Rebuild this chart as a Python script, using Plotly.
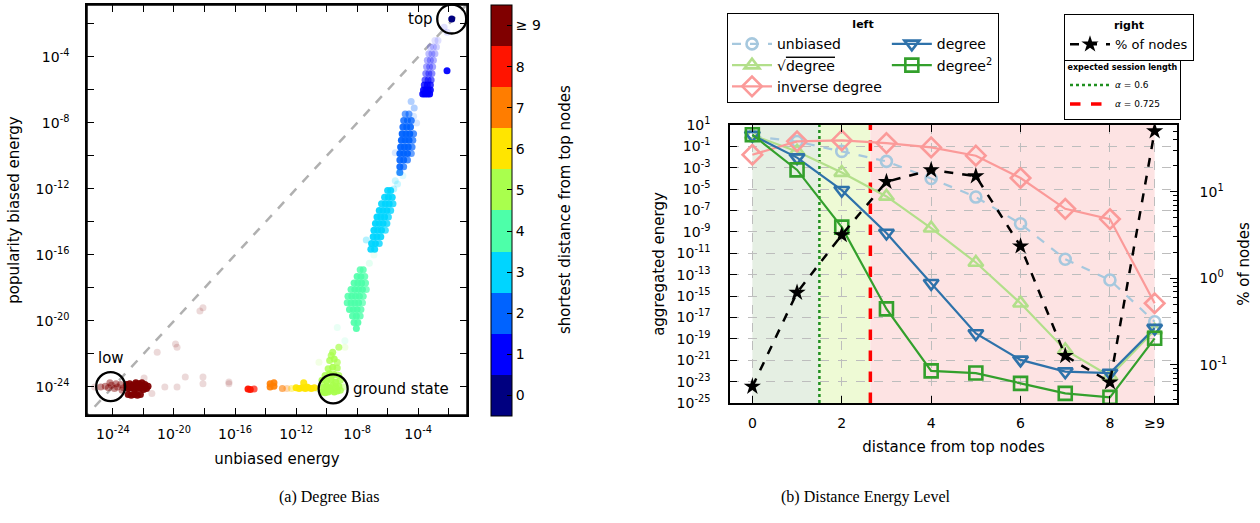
import numpy as np
import plotly.graph_objects as go

# ================= (a) Degree Bias : log10(unbiased energy), log10(biased energy), alpha =================
c0_x = [-1.8]
c0_y = [-1.7]
c0_a = [1.0]

c1_x = [-3.7, -3.55, -3.4, -3.25, -3.65, -3.5, -3.35, -3.2, -3.6, -3.4, -3.2, -3.55, -3.35, -3.15,
        -3.5, -3.3, -3.1, -3.45, -3.25, -3.05, -3.4, -3.2, -3.0, -3.3, -3.1, -2.9,
        -3.2, -3.0, -2.8, -2.9, -2.7, -2.11, -2.3, -2.1]
c1_y = [-6.25, -6.25, -6.25, -6.25, -6.0, -6.0, -6.0, -6.0, -5.7, -5.7, -5.7, -5.4, -5.4, -5.4,
        -5.0, -5.0, -5.0, -4.6, -4.6, -4.6, -4.2, -4.2, -4.2, -3.8, -3.8, -3.8,
        -3.4, -3.4, -3.4, -3.0, -3.0, -4.83, -2.2, -2.5]
c1_a = [0.95, 0.95, 0.95, 0.95, 0.9, 0.9, 0.9, 0.9, 0.8, 0.8, 0.8, 0.6, 0.6, 0.6,
        0.45, 0.45, 0.45, 0.35, 0.35, 0.35, 0.3, 0.3, 0.3, 0.25, 0.25, 0.25,
        0.18, 0.18, 0.18, 0.12, 0.12, 0.95, 0.12, 0.12]

c2_x = [-4.85, -4.6, -4.95, -4.7, -4.45, -5.0, -4.75, -4.5, -5.05, -4.8, -4.55, -4.3,
        -5.1, -4.85, -4.6, -4.35, -5.15, -4.9, -4.65, -4.4, -5.2, -4.95, -4.7, -4.45,
        -5.2, -4.95, -4.7, -5.2, -4.95, -5.2, -4.3, -4.1, -5.5, -4.46, -4.26]
c2_y = [-7.45, -7.45, -7.85, -7.85, -7.85, -8.25, -8.25, -8.25, -8.65, -8.65, -8.65, -8.65,
        -9.05, -9.05, -9.05, -9.05, -9.45, -9.45, -9.45, -9.45, -9.85, -9.85, -9.85, -9.85,
        -10.25, -10.25, -10.25, -10.65, -10.65, -11.0, -7.6, -8.0, -9.8, -6.7, -7.1]
c2_a = [0.6, 0.6, 0.8, 0.8, 0.8, 0.9, 0.9, 0.9, 0.95, 0.95, 0.95, 0.7,
        0.95, 0.95, 0.95, 0.7, 0.95, 0.95, 0.95, 0.7, 0.95, 0.95, 0.95, 0.6,
        0.9, 0.9, 0.7, 0.9, 0.7, 0.8, 0.15, 0.15, 0.15, 0.3, 0.3]

c3_x = [-6.0, -5.8, -6.2, -5.95, -5.7, -6.4, -6.15, -5.9, -5.65, -6.55, -6.3, -6.05, -5.8,
        -6.7, -6.45, -6.2, -5.95, -6.8, -6.55, -6.3, -6.05, -6.9, -6.65, -6.4, -6.15,
        -6.95, -6.7, -6.45, -7.05, -6.8, -6.55, -7.1, -6.85,
        -5.25, -5.5, -5.0, -7.4, -5.6, -5.35]
c3_y = [-12.1, -12.1, -12.5, -12.5, -12.5, -12.9, -12.9, -12.9, -12.9, -13.3, -13.3, -13.3, -13.3,
        -13.7, -13.7, -13.7, -13.7, -14.1, -14.1, -14.1, -14.1, -14.5, -14.5, -14.5, -14.5,
        -14.9, -14.9, -14.9, -15.3, -15.3, -15.3, -15.65, -15.65,
        -11.0, -11.5, -11.2, -15.1, -12.0, -11.7]
c3_a = [0.9, 0.9, 0.9, 0.95, 0.9, 0.9, 0.95, 0.95, 0.8, 0.95, 0.95, 0.95, 0.8,
        0.95, 0.95, 0.95, 0.8, 0.95, 0.95, 0.95, 0.8, 0.95, 0.95, 0.95, 0.7,
        0.95, 0.95, 0.9, 0.95, 0.95, 0.8, 0.9, 0.9,
        0.15, 0.2, 0.12, 0.3, 0.25, 0.2]

c4_x = [-7.8, -7.6, -8.0, -7.75, -7.5, -8.2, -7.95, -7.7, -7.45, -8.4, -8.15, -7.9, -7.65, -7.4,
        -8.6, -8.35, -8.1, -7.85, -7.6, -8.65, -8.4, -8.15, -7.9, -7.65, -8.5, -8.25, -8.0, -7.75,
        -8.3, -8.05, -7.8, -8.2, -7.95, -8.05, -9.3, -7.2, -6.9, -8.8]
c4_y = [-16.9, -16.9, -17.3, -17.3, -17.3, -17.7, -17.7, -17.7, -17.7, -18.1, -18.1, -18.1, -18.1, -18.1,
        -18.5, -18.5, -18.5, -18.5, -18.5, -18.9, -18.9, -18.9, -18.9, -18.9, -19.3, -19.3, -19.3, -19.3,
        -19.7, -19.7, -19.7, -20.1, -20.1, -20.45, -20.4, -16.5, -16.0, -21.2]
c4_a = [0.8, 0.8, 0.9, 0.95, 0.8, 0.9, 0.95, 0.95, 0.8, 0.85, 0.95, 0.95, 0.95, 0.7,
        0.85, 0.95, 0.95, 0.95, 0.8, 0.85, 0.95, 0.95, 0.95, 0.7, 0.9, 0.95, 0.95, 0.8,
        0.9, 0.95, 0.8, 0.9, 0.9, 0.9, 0.12, 0.15, 0.1, 0.12]

c5_x = [-10.3, -10.1, -9.9, -9.7, -9.5, -9.3, -9.1, -10.2, -10.0, -9.8, -9.6, -9.4, -9.2,
        -10.3, -10.0, -9.7, -9.4, -9.1, -10.1, -9.8, -9.5, -9.2, -9.9, -9.6, -9.3,
        -9.8, -9.5, -9.3, -9.6, -9.2, -9.7, -8.9, -10.6, -8.8, -10.5]
c5_y = [-24.3, -24.35, -24.3, -24.2, -24.3, -24.25, -24.2, -24.0, -23.95, -24.05, -23.9, -24.0, -23.95,
        -23.6, -23.65, -23.55, -23.7, -23.6, -23.3, -23.2, -23.25, -23.3, -22.9, -22.8, -22.85,
        -22.4, -22.3, -22.5, -21.9, -21.6, -22.1, -24.0, -24.1, -21.6, -22.5]
c5_a = [0.95, 0.95, 0.95, 0.95, 0.95, 0.95, 0.8, 0.95, 0.95, 0.95, 0.95, 0.95, 0.9,
        0.9, 0.95, 0.95, 0.95, 0.8, 0.85, 0.95, 0.95, 0.8, 0.8, 0.9, 0.8,
        0.8, 0.85, 0.7, 0.8, 0.7, 0.75, 0.4, 0.3, 0.15, 0.15]

c6_x = [-12.0, -11.8, -11.6, -11.4, -11.2, -11.0, -10.8, -11.5, -11.3, -12.3]
c6_y = [-24.05, -24.1, -24.05, -24.1, -24.05, -24.1, -24.05, -23.75, -24.0, -24.1]
c6_a = [0.95, 0.95, 0.95, 0.95, 0.95, 0.95, 0.9, 0.9, 0.95, 0.4]

c7_x = [-13.7, -13.7, -13.45, -13.45, -12.9, -12.6]
c7_y = [-23.8, -24.0, -23.75, -23.95, -24.1, -24.1]
c7_a = [0.9, 0.9, 0.9, 0.9, 0.6, 0.3]

c8_x = [-15.15, -15.0, -14.75]
c8_y = [-24.12, -24.15, -24.12]
c8_a = [0.95, 0.95, 0.7]

c9_x = [-23.1, -22.9, -22.7, -22.5, -22.3, -22.1, -21.9, -21.7, -23.0, -22.8, -22.6, -22.4, -22.2,
        -22.0, -21.8, -23.1, -22.7, -22.3, -21.9, -22.5, -22.1, -23.0, -22.8, -22.6, -22.4, -22.2,
        -24.8, -24.5, -24.3, -24.1, -23.9, -23.7, -23.5, -23.3, -24.2, -23.8, -23.4,
        -21.45, -21.96, -20.6, -19.8, -19.26, -18.1, -18.1, -16.4, -21.1, -19.9, -19.8, -18.1,
        -18.3, -16.4, -25.2]
c9_y = [-23.85, -23.8, -23.9, -23.85, -23.8, -23.9, -23.85, -23.95, -24.1, -24.05, -24.15, -24.1, -24.05,
        -24.15, -24.1, -24.0, -24.0, -24.0, -24.0, -23.75, -23.75, -24.45, -24.5, -24.45, -24.5, -24.45,
        -24.0, -23.95, -24.05, -23.9, -24.1, -24.0, -23.85, -24.05, -23.75, -23.8, -24.2,
        -24.4, -23.45, -24.0, -24.0, -23.4, -23.4, -23.8, -23.8, -21.9, -21.4, -21.6, -19.2,
        -19.4, -23.7, -24.0]
c9_a = [0.95] * 26 + [0.45] * 11 + [0.15] * 15

clusters = [(c0_x, c0_y, c0_a), (c1_x, c1_y, c1_a), (c2_x, c2_y, c2_a), (c3_x, c3_y, c3_a),
            (c4_x, c4_y, c4_a), (c5_x, c5_y, c5_a), (c6_x, c6_y, c6_a), (c7_x, c7_y, c7_a),
            (c8_x, c8_y, c8_a), (c9_x, c9_y, c9_a)]

dist_labels = ["0", "1", "2", "3", "4", "5", "6", "7", "8", "≥ 9"]
jet10 = ["#000080", "#0000ff", "#0063ff", "#00d5ff", "#4dffa9",
         "#a9ff4d", "#ffe500", "#ff7d00", "#ff1400", "#800000"]

diag = [-26.0, -0.3]
# highlighted regions (log10 x, log10 y) and their labels
circ_x = [-1.8, -24.15, -9.57]
circ_y = [-1.7, -23.98, -24.12]
circ_txt = ["top", "low", "ground state"]

# ================= (b) Distance Energy Level =================
dist = [0, 1, 2, 3, 4, 5, 6, 7, 8, 9]
dist_ticktext = ["0", "2", "4", "6", "8", "≥9"]
unbiased = [-0.05, -0.55, -1.47, -2.4, -4.0, -5.74, -8.24, -11.55, -13.5, -17.4]
sqrt_degree = [0.05, -1.47, -3.45, -5.68, -8.65, -11.86, -15.67, -20.04, -22.5, -18.2]
inverse_degree = [-1.78, -0.53, -0.44, -0.69, -1.1, -1.87, -3.96, -6.84, -7.8, -15.67]
degree = [0.05, -2.05, -5.1, -9.1, -13.8, -18.5, -20.97, -22.07, -22.2, -18.0]
degree_sq = [0.09, -3.2, -8.55, -16.2, -22.0, -22.2, -23.16, -24.1, -24.47, -18.95]
pct_nodes = [-1.25, -0.165, 0.5, 1.115, 1.25, 1.18, 0.37, -0.895, -1.2, 1.7]   # log10(% of nodes)
session_len = [1.5, 2.64]
session_lbl = ["<i>α</i> = 0.6", "<i>α</i> = 0.725"]

FONT = "DejaVu Sans"
W, H = 1260, 523

fig = go.Figure()

# ---- scatter (a) ----
all_x, all_y, all_c, all_a = [], [], [], []
for k, (xs, ys, al) in enumerate(clusters):
    all_x += xs
    all_y += ys
    all_a += al
    all_c += [k] * len(xs)

cs = []
for k, col in enumerate(jet10):
    cs.append([k / 10, col])
    cs.append([(k + 1) / 10, col])

fig.add_trace(go.Scatter(
    x=[10 ** v for v in diag], y=[10 ** v for v in diag], mode="lines",
    line=dict(color="#b0b0b0", width=2.5, dash="dash"), showlegend=False,
    xaxis="x", yaxis="y", hoverinfo="skip"))

fig.add_trace(go.Scatter(
    x=10 ** np.array(all_x), y=10 ** np.array(all_y), mode="markers",
    marker=dict(size=7, color=all_c, opacity=all_a, colorscale=cs, cmin=-0.5, cmax=9.5,
                line=dict(width=0), showscale=True,
                colorbar=dict(x=491 / W, xanchor="left", y=1 - 5 / H, yanchor="top",
                              len=411 / H, lenmode="fraction", thickness=21, thicknessmode="pixels",
                              xpad=0, ypad=0, outlinewidth=1, outlinecolor="black",
                              tickvals=list(range(10)), ticktext=dist_labels,
                              ticks="inside", ticklen=5, tickcolor="black",
                              tickfont=dict(family=FONT, size=14, color="black"))),
    showlegend=False, xaxis="x", yaxis="y"))

# highlight circles
fig.add_trace(go.Scatter(
    x=[10 ** v for v in circ_x], y=[10 ** v for v in circ_y], mode="markers",
    marker=dict(symbol="circle-open", size=29, color="black", line=dict(width=2.3, color="black")),
    showlegend=False, xaxis="x", yaxis="y", hoverinfo="skip"))

# ---- (b) region shading ----
shade_cols = ["#e5efe3", "#eefad5", "#fde3e3"]
bounds = [dist[0], session_len[0], session_len[1], dist[-1]]
shapes = []
for i in range(3):
    shapes.append(dict(type="rect", xref="x2", yref="y2 domain", x0=bounds[i], x1=bounds[i + 1],
                       y0=0, y1=1, fillcolor=shade_cols[i], line=dict(width=0), layer="below"))
# frame of panel (a)
shapes.append(dict(type="rect", xref="x domain", yref="y domain", x0=0, x1=1, y0=0, y1=1,
                   line=dict(color="black", width=1.5), fillcolor="rgba(0,0,0,0)", layer="above"))

# session length lines
fig.add_trace(go.Scatter(x=[session_len[0]] * 2, y=[1e-25, 1e1], mode="lines",
                         line=dict(color="#1f8f1f", width=2.5, dash="dot"),
                         name=session_lbl[0], legend="legend3", xaxis="x2", yaxis="y2"))
fig.add_trace(go.Scatter(x=[session_len[1]] * 2, y=[1e-25, 1e1], mode="lines",
                         line=dict(color="#ff0000", width=3.5, dash="dash"),
                         name=session_lbl[1], legend="legend3", xaxis="x2", yaxis="y2"))

def series(vals, name, color, symbol, dash, group, size):
    return go.Scatter(x=dist, y=[10 ** v for v in vals], mode="lines+markers", name=name,
                      line=dict(color=color, width=2.2, dash=dash),
                      marker=dict(symbol=symbol, size=size, color=color, line=dict(width=2.6, color=color)),
                      legendgroup=group, legend="legend", xaxis="x2", yaxis="y2")

fig.add_trace(series(unbiased, "unbiased", "#a6c8de", "circle-open", "dash", "a", 11))
fig.add_trace(series(sqrt_degree, "√<span style='text-decoration:overline'>degree</span>", "#b2df8a",
                     "triangle-up-open", "solid", "a", 13))
fig.add_trace(series(inverse_degree, "inverse degree", "#fb9a99", "diamond-open", "solid", "a", 15))
fig.add_trace(series(degree, "degree", "#2e72aa", "triangle-down-open", "solid", "b", 13))
fig.add_trace(series(degree_sq, "degree<sup>2</sup>", "#33a02c", "square-open", "solid", "b", 13))

fig.add_trace(go.Scatter(x=dist, y=[10 ** v for v in pct_nodes], mode="lines+markers", name="% of nodes",
                         line=dict(color="black", width=2.5, dash="dash"),
                         marker=dict(symbol="star", size=13, color="black"),
                         legend="legend2", xaxis="x2", yaxis="y3"))

# ---- annotations ----
ann = []
ann.append(dict(x=circ_x[0], y=circ_y[0], xref="x", yref="y", text=circ_txt[0], showarrow=False,
                xanchor="right", xshift=-17, font=dict(family=FONT, size=15, color="black")))
ann.append(dict(x=circ_x[1], y=circ_y[1], xref="x", yref="y", text=circ_txt[1], showarrow=False,
                xanchor="center", yshift=29, font=dict(family=FONT, size=15, color="black")))
ann.append(dict(x=circ_x[2], y=circ_y[2], xref="x", yref="y", text=circ_txt[2], showarrow=False,
                xanchor="left", xshift=18, font=dict(family=FONT, size=15, color="black")))
ann.append(dict(x=565 / W, y=1 - 210 / H, xref="paper", yref="paper", text="shortest distance from top nodes",
                textangle=-90, showarrow=False, font=dict(family=FONT, size=15, color="black")))
ann.append(dict(x=277 / W, y=1 - 508 / H, xref="paper", yref="paper", text="(a) Degree Bias",
                showarrow=False, font=dict(family="Liberation Serif", size=16, color="black")))
ann.append(dict(x=953 / W, y=1 - 508 / H, xref="paper", yref="paper", text="(b) Distance Energy Level",
                showarrow=False, font=dict(family="Liberation Serif", size=16, color="black")))

def sup(k):
    return "10<sup>%d</sup>" % k

axfont = dict(family=FONT, size=14, color="black")
titfont = dict(family=FONT, size=15, color="black")
ax_common = dict(showline=True, linecolor="black", linewidth=1.5, ticks="inside", ticklen=7,
                 tickcolor="black", zeroline=False, tickfont=axfont)

ll_major = [-24, -20, -16, -12, -8, -4]
ll_minor = [-26, -22, -18, -14, -10, -6, -2]
minor_a = dict(tickmode="array", tickvals=[10.0 ** k for k in ll_minor], ticks="inside",
               ticklen=7, tickcolor="black", showgrid=False)
r_minor = [m * 10.0 ** e for e in (-2, -1, 0, 1) for m in range(2, 10)]
minor_r = dict(tickmode="array", tickvals=r_minor, ticks="inside", ticklen=4, tickcolor="black",
               showgrid=False)

fig.update_layout(
    width=W, height=H, margin=dict(l=0, r=0, t=0, b=0, autoexpand=False),
    paper_bgcolor="white", plot_bgcolor="white", font=dict(family=FONT, color="black"),
    shapes=shapes, annotations=ann,
    xaxis=dict(domain=[87 / W, 467 / W], type="log", range=[-25.7, -0.8], anchor="y",
               tickvals=[10.0 ** k for k in ll_major], ticktext=[sup(k) for k in ll_major],
               minor=minor_a, mirror="allticks", showgrid=False, ticklabelstandoff=5,
               title=dict(text="unbiased energy", font=titfont, standoff=13), **ax_common),
    yaxis=dict(domain=[1 - 415 / H, 1 - 5 / H], type="log", range=[-25.7, -0.85], anchor="x",
               tickvals=[10.0 ** k for k in ll_major], ticktext=[sup(k) for k in ll_major],
               minor=minor_a, mirror="allticks", showgrid=False, ticklabelstandoff=13,
               title=dict(text="popularity biased energy", font=titfont, standoff=12), **ax_common),
    xaxis2=dict(domain=[730 / W, 1177 / W], range=[-0.5, 9.5], anchor="y2",
                tickvals=[0, 2, 4, 6, 8, 9], ticktext=dist_ticktext, mirror="ticks",
                showgrid=True, gridcolor="#bdbdbd", griddash="dash", gridwidth=1, ticklabelstandoff=6,
                title=dict(text="distance from top nodes", font=titfont, standoff=12), **ax_common),
    yaxis2=dict(domain=[1 - 403 / H, 1 - 125 / H], type="log", range=[-25, 1], anchor="x2",
                tickvals=[10.0 ** k for k in range(-25, 2, 2)], ticktext=[sup(k) for k in range(-25, 2, 2)],
                showgrid=True, gridcolor="#bdbdbd", griddash="dash", gridwidth=1, ticklabelstandoff=15,
                title=dict(text="aggregated energy", font=titfont, standoff=8), **ax_common),
    yaxis3=dict(overlaying="y2", side="right", type="log", range=[-1.44, 1.77], anchor="x2",
                tickvals=[0.1, 1, 10], ticktext=[sup(-1), sup(0), sup(1)], showgrid=False,
                minor=minor_r, ticklabelstandoff=18,
                title=dict(text="% of nodes", font=titfont, standoff=12), **ax_common),
    legend=dict(x=727 / W, y=1 - 13 / H, xanchor="left", yanchor="top", orientation="h",
                traceorder="grouped", bordercolor="black", borderwidth=1, bgcolor="white",
                font=dict(family=FONT, size=14, color="black"), itemwidth=40, tracegroupgap=4,
                title=dict(text="<b>left</b>", side="top center", font=dict(family=FONT, size=11))),
    legend2=dict(x=1064 / W, y=1 - 14 / H, xanchor="left", yanchor="top",
                 bordercolor="black", borderwidth=1, bgcolor="white", itemwidth=40,
                 font=dict(family=FONT, size=13, color="black"),
                 title=dict(text="<b>right</b>", side="top center", font=dict(family=FONT, size=11))),
    legend3=dict(x=1064 / W, y=1 - 59 / H, xanchor="left", yanchor="top",
                 bordercolor="black", borderwidth=1, bgcolor="white", itemwidth=40,
                 font=dict(family=FONT, size=9, color="black"),
                 title=dict(text="<b>expected session length</b>", side="top center",
                            font=dict(family=FONT, size=8))),
)

fig.write_html("out.html", config={"displayModeBar": False},
               post_script="document.body.style.margin='0px';")
